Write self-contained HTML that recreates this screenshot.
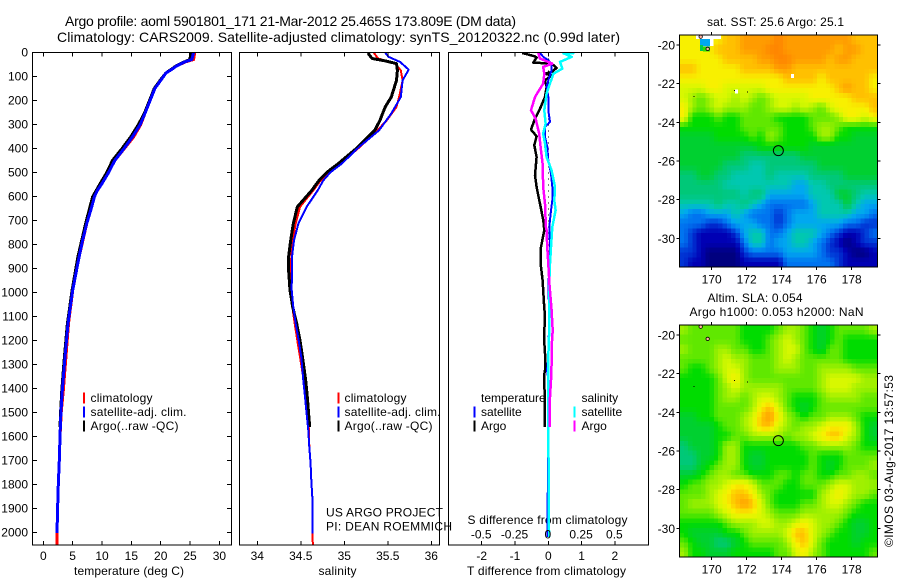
<!DOCTYPE html>
<html lang="en">
<head>
<meta charset="utf-8">
<title>Argo profile 5901801_171</title>
<style>
html,body{margin:0;padding:0;background:#fff;width:900px;height:580px;overflow:hidden}
svg{display:block}
text{font-family:"Liberation Sans",Arial,sans-serif;font-size:12px;fill:#000}
.title{font-size:14px}
</style>
</head>
<body>
<svg id="chart" xmlns="http://www.w3.org/2000/svg" width="900" height="580" viewBox="0 0 900 580">
<rect x="0" y="0" width="900" height="580" fill="#fff"/>
<text class="title" x="65" y="26" textLength="451">Argo profile: aoml 5901801_171 21-Mar-2012 25.465S 173.809E (DM data)</text>
<text class="title" x="57" y="42" textLength="563">Climatology: CARS2009. Satellite-adjusted climatology: synTS_20120322.nc (0.99d later)</text>
<text x="74" y="575" textLength="110">temperature (deg C)</text>
<text x="318.5" y="575" textLength="38">salinity</text>
<text x="467" y="575" textLength="159">T difference from climatology</text>
<text x="467.5" y="524" textLength="160">S difference from climatology</text>
<text x="326" y="516.5" textLength="117">US ARGO PROJECT</text>
<text x="326" y="530.5" textLength="126">PI: DEAN ROEMMICH</text>
<text x="707" y="26" textLength="137">sat. SST: 25.6 Argo: 25.1</text>
<text x="707.5" y="302" textLength="95">Altim. SLA: 0.054</text>
<text x="689.5" y="316" textLength="174">Argo h1000: 0.053 h2000: NaN</text>
<text transform="translate(893,547) rotate(-90)" textLength="172">©IMOS 03-Aug-2017 13:57:53</text>
<g id="layer"></g>
</svg>
<script>
/* ---------- tick labels ---------- */
const depthTicks = [0,100,200,300,400,500,600,700,800,900,1000,1100,1200,1300,1400,1500,1600,1700,1800,1900,2000];
const tempTicks = [0,5,10,15,20,25,30];
const salTicks = [34,34.5,35,35.5,36];
const tDiffTicks = [-2,-1,0,1,2];
const sDiffTicks = [-0.5,-0.25,0,0.25,0.5];
const lonTicks = [170,172,174,176,178];
const latTicks = [-20,-22,-24,-26,-28,-30];

/* ---------- temperature profiles ---------- */
const tempSatDepth = [0,30,40,57,71,86,110,151,201,255,301,352,401,450,501,547,575,602,644,714,783,852,991,1130,1269,1408,1500,1600,1700,1800,1900,2002];
const tempSatValue = [25.6,25.3,24.1,22.7,21.9,20.9,20.2,19.0,18.2,17.3,16.5,15.2,13.75,12.2,11.1,10.0,9.2,8.7,8.24,7.4,6.7,6.1,5.0,4.2,3.7,3.24,3.0,2.85,2.73,2.56,2.44,2.33];
const tempClimDepth = [0,30,40,57,71,86,110,151,201,255,301,352,401,450,501,547,602,714,852,991,1130,1269,1408,1500,1600,1700,1800,1900,2002,2053];
const tempClimValue = [25.8,25.6,24.2,22.7,21.9,20.9,20.2,19.0,18.2,17.3,16.6,15.4,13.8,12.2,11.0,9.9,8.6,7.4,6.1,5.0,4.3,3.85,3.4,3.05,2.85,2.73,2.56,2.44,2.33,2.3];
const tempArgoDepth = [0,30,40,57,71,86,110,151,201,255,301,352,401,450,501,547,602,714,852,991,1130,1269,1408,1500,1560];
const tempArgoValue = [25.1,25.0,24.0,22.6,21.8,20.9,20.1,18.9,18.1,17.2,16.2,14.9,13.4,11.8,10.8,9.7,8.4,7.2,5.9,4.9,4.1,3.6,3.15,2.95,2.85];

/* ---------- salinity profiles ---------- */
const salClimDepth = [3,26,47,75,117,186,228,283,325,394,464,500,533,575,644,714,783,852,991,1061,1130,1200,1269,1408,1574,1644,1713,1783,1852,1922,1991,2053];
const salClimValue = [35.34,35.39,35.58,35.65,35.67,35.63,35.6,35.49,35.38,35.18,34.95,34.83,34.73,34.644,34.491,34.441,34.407,34.391,34.376,34.403,34.43,34.46,34.491,34.552,34.594,34.598,34.613,34.621,34.632,34.632,34.636,34.638];
const salSatDepth = [3,19,40,72,117,186,255,325,394,464,500,533,575,644,714,783,852,991,1061,1130,1200,1269,1366,1435,1505,1574,1644,1713,1783,1852,1922,2005];
const salSatValue = [35.47,35.51,35.64,35.74,35.67,35.65,35.54,35.40,35.17,34.97,34.84,34.76,34.694,34.567,34.472,34.422,34.399,34.395,34.414,34.441,34.476,34.506,34.529,34.548,34.567,34.586,34.598,34.613,34.621,34.632,34.632,34.636];
const salArgoDepth = [3,26,36,47,75,117,186,228,283,325,394,464,500,533,575,644,714,783,852,908,991,1061,1130,1200,1269,1366,1435,1505,1561];
const salArgoValue = [35.27,35.32,35.47,35.60,35.61,35.60,35.54,35.47,35.41,35.35,35.16,34.93,34.80,34.71,34.625,34.46,34.414,34.384,34.36,34.36,34.376,34.407,34.453,34.491,34.52,34.556,34.575,34.59,34.602];

/* ---------- difference profiles ---------- */
const tDiffArgoDepth = [3,17,22,43,47,65,82,89,96,117,144,186,235,276,322,350,387,436,512,561,631,700,741,811,880,949,1047,1102,1186,1255,1325,1340,1560];
const tDiffArgoValue = [-0.78,-0.40,-0.35,-0.45,0.10,0.25,0.10,-0.10,0.10,-0.10,-0.05,-0.10,-0.25,-0.40,-0.52,-0.35,-0.42,-0.35,-0.40,-0.35,-0.25,-0.15,-0.12,-0.22,-0.23,-0.17,-0.13,-0.10,-0.13,-0.10,-0.10,-0.12,-0.10];
const tDiffSatDepth = [3,19,33,47,75,117,144,186,241,290,311,352,394,450,506,561,617,658,728,811,880,991,1075,1269,1325,1380,1560,2019];
const tDiffSatValue = [-0.25,-0.15,0,0.10,0.10,0,-0.05,0,0,0.05,-0.10,-0.10,-0.03,0,0.08,0.12,0.12,0.08,0.03,0.05,0.03,0,0.03,0,-0.04,0.02,-0.01,-0.02];
const sDiffSatDepth = [3,4,19,40,68,89,130,172,241,297,339,380,436,492,561,617,658,728,811,880,991,1075,1186,1269,1560,1991,2019];
const sDiffSatValue = [0.196,0.113,0.176,0.088,0.106,0.038,0.013,-0.013,-0.03,-0.02,-0.038,-0.025,-0.013,0.025,0.05,0.045,0.055,0.03,0.02,0.013,0.005,0.008,0.005,0,0,0.005,0.005];
const sDiffArgoDepth = [3,26,47,61,89,130,186,241,276,339,394,464,561,631,728,741,811,880,963,1075,1158,1228,1297,1366,1436,1560];
const sDiffArgoValue = [-0.075,-0.063,0.03,-0.038,-0.03,-0.038,-0.10,-0.13,-0.095,-0.068,-0.058,-0.043,-0.038,-0.025,-0.018,-0.013,-0.008,0,0.008,0.025,0.033,0.025,0.025,0.02,0.013,0.01];

/* ---------- map grids: colour-scale level per 0.5 deg cell, north to south ---------- */
const sstLevels = [
[12,12,12,12,12,13,13,14,14,14,14,15,14,14,14,14,14,14,14,14,13,13,13],
[12,12,12,12,13,13,13,14,14,14,15,15,14,14,14,14,14,14,13,14,14,13,13],
[12,12,12,12,12,13,13,13,13,14,14,15,15,14,14,14,14,13,14,14,13,13,13],
[13,13,12,12,12,12,12,13,13,13,13,14,14,13,13,13,13,13,13,13,13,13,13],
[12,12,12,12,12,12,12,12,12,12,12,12,13,13,13,13,12,13,13,13,13,13,12],
[11,11,11,12,12,11,11,11,11,11,12,12,12,12,12,12,12,12,13,14,13,13,12],
[11,10,9,10,11,11,10,11,10,9,10,11,11,11,11,12,12,12,12,12,13,13,13],
[12,10,9,10,11,10,10,10,9,9,10,11,11,10,11,10,9,11,12,12,12,12,13],
[12,8,8,8,9,8,8,9,9,9,9,8,8,8,8,9,9,9,10,12,12,11,12],
[8,8,8,8,8,8,8,9,9,9,9,9,8,8,8,9,10,10,9,8,8,8,8],
[7,7,7,7,8,8,8,8,9,8,10,9,8,8,8,8,10,10,8,8,7,7,7],
[7,7,7,7,7,7,7,7,7,8,8,8,8,8,8,7,7,7,7,7,7,7,7],
[7,7,7,7,7,7,7,6,6,6,6,6,6,6,7,7,7,7,7,7,7,7,7],
[7,7,7,7,7,6,6,6,5,5,6,6,6,6,6,6,7,7,7,7,7,7,7],
[6,6,7,7,6,6,5,5,5,5,6,5,5,5,5,6,6,6,6,7,7,7,7],
[6,6,6,6,6,5,5,5,5,5,5,5,5,4,4,5,5,6,6,6,6,6,6],
[6,6,6,6,6,6,6,5,6,6,4,4,4,4,4,5,5,5,7,7,6,5,5],
[5,5,5,5,6,5,5,6,5,4,3,3,3,3,3,4,5,5,5,7,5,4,4],
[4,3,3,4,4,4,5,4,3,3,3,2,3,4,4,4,5,5,5,5,4,4,3],
[3,3,3,2,2,3,4,4,4,3,3,2,3,4,4,4,4,4,4,3,3,2,2],
[3,2,1,1,1,1,2,4,5,5,3,3,4,5,5,5,4,3,2,1,1,2,3],
[3,2,1,1,1,1,1,3,5,5,3,4,4,5,5,4,3,2,1,0,1,2,2],
[2,2,1,0,0,0,0,2,3,3,3,3,4,4,4,4,3,2,2,1,0,0,1],
[2,1,1,0,0,0,0,1,1,1,1,1,3,3,3,3,3,3,2,1,1,1,1]
];
const slaLevels = [
[10,9,9,9,9,9,9,8,8,8,8,9,10,10,9,8,7,8,9,9,9,9,10],
[9,9,9,9,9,9,9,8,8,8,9,10,11,10,9,8,7,8,9,8,8,8,8],
[10,9,9,9,10,10,9,9,8,8,9,10,11,11,9,8,7,9,9,8,8,8,8],
[9,9,9,9,10,11,10,10,9,9,9,10,11,10,9,9,9,9,9,8,8,8,8],
[9,8,8,9,10,11,11,10,9,9,9,10,10,10,9,9,10,10,10,10,9,9,9],
[8,8,8,8,9,11,12,10,9,9,9,9,9,9,9,9,10,11,11,11,11,10,10],
[8,8,8,8,9,10,11,10,10,10,10,10,9,9,9,9,10,11,11,11,10,10,10],
[8,8,8,8,9,10,10,9,10,11,11,10,9,8,8,8,9,10,10,10,10,9,9],
[8,8,8,8,9,9,9,9,10,12,13,11,9,8,7,8,9,9,9,9,9,9,9],
[7,7,8,8,9,9,9,10,11,13,14,12,10,9,8,9,9,10,10,10,9,8,8],
[7,7,7,7,8,9,9,10,11,13,13,11,10,9,10,10,11,12,12,12,10,8,7],
[7,7,7,7,8,8,9,9,10,10,10,10,9,10,10,11,12,13,13,11,10,8,7],
[6,7,7,7,8,10,10,8,8,8,8,8,8,8,9,9,10,10,10,10,9,8,8],
[6,6,7,7,8,10,10,8,7,7,8,8,8,8,8,9,8,8,8,9,9,9,9],
[6,6,7,8,9,10,10,8,7,7,8,8,8,8,8,9,8,7,8,9,9,9,10],
[7,7,8,9,10,10,9,9,8,8,8,9,9,8,9,9,8,8,9,9,10,10,9],
[8,9,9,10,10,11,12,12,11,9,9,9,8,8,9,9,9,10,11,11,10,10,10],
[9,9,9,10,11,12,13,13,12,10,9,8,8,8,8,8,10,11,12,11,10,10,9],
[9,10,10,10,11,12,13,14,13,11,9,8,8,8,9,9,10,11,11,10,9,8,8],
[9,9,9,9,10,11,12,12,12,11,10,9,9,9,10,10,10,10,10,9,8,8,8],
[8,8,8,8,8,9,10,10,10,11,11,10,10,11,12,11,10,10,9,8,7,7,8],
[8,7,7,7,7,8,8,9,10,10,10,10,11,13,13,11,10,9,8,8,7,7,8],
[9,8,7,7,6,6,7,8,9,9,9,9,10,12,13,11,9,8,8,8,7,8,8],
[10,8,8,7,7,7,8,8,8,8,8,9,9,11,12,10,9,8,8,8,8,8,9]
];
const levelColors = [[0,0,127],[0,0,180],[0,52,212],[0,116,240],[0,168,240],[0,200,176],[0,200,120],[0,208,48],[0,220,0],[96,232,0],[160,240,0],[216,248,0],[248,240,0],[255,192,0],[255,156,0],[255,132,0]];
const floatLon = 173.809;
const floatLat = -25.465;
const islandLon = [168.95,171.27,172.03];
const islandLat = [-22.64,-22.34,-22.40];

/* ---------- axis functions ---------- */
const yDepth = d => 52.3 + d * 0.2401;
const xTemp = v => 43.3 + v * 5.87;
const xSal = v => 257.3 + (v - 34) * 87;
const xTDiff = v => 548.3 + v * 33.3;
const xSDiff = v => 548.3 + v * 133.2;
const xLon = v => 711.7 + (v - 170) * 17.5;
const yLat = (v, top) => top + 10 + (-20 - v) * 19.33;
function levelColor(v) {
  const clamped = Math.max(0, Math.min(levelColors.length - 1, v));
  const i = Math.min(levelColors.length - 2, Math.floor(clamped));
  const f = clamped - i;
  const a = levelColors[i], b = levelColors[i + 1];
  return 'rgb(' + a.map((c, k) => Math.round(c + (b[k] - c) * f)).join(',') + ')';
}

const NS = 'http://www.w3.org/2000/svg';
const layer = document.getElementById('layer');
function make(tag, props) {
  const el = document.createElementNS(NS, tag);
  for (const k in props) el.setAttribute(k, props[k]);
  layer.appendChild(el);
  return el;
}
function label(x, y, str, anchor, len) {
  const el = make('text', {x: x, y: y, 'text-anchor': anchor});
  if (len) el.setAttribute('textLength', len);
  el.textContent = str;
  return el;
}
function tick(x1, y1, x2, y2) {
  return make('line', {x1: x1, y1: y1, x2: x2, y2: y2, stroke: '#000', 'stroke-width': 1, 'shape-rendering': 'crispEdges'});
}
function profile(depths, values, xf, color, width) {
  const pts = depths.map((d, i) => xf(values[i]).toFixed(1) + ',' + yDepth(d).toFixed(1)).join(' ');
  return make('polyline', {points: pts, fill: 'none', stroke: color, 'stroke-width': width, 'shape-rendering': 'crispEdges', 'stroke-linejoin': 'round'});
}
function frame(x, y, w, h) {
  return make('rect', {x: x, y: y, width: w, height: h, fill: 'none', stroke: '#000', 'stroke-width': 1, 'shape-rendering': 'crispEdges'});
}

/* ---------- maps: each data cell is shaded as 2x2 display pixels ---------- */
function sampleLevel(levels, r, c) {
  const rows = levels.length, cols = levels[0].length;
  const rr = Math.max(0, Math.min(rows - 1, r)), cc = Math.max(0, Math.min(cols - 1, c));
  const r0 = Math.floor(rr), c0 = Math.floor(cc);
  const r1 = Math.min(rows - 1, r0 + 1), c1 = Math.min(cols - 1, c0 + 1);
  const fr = rr - r0, fc = cc - c0;
  return (levels[r0][c0] * (1 - fc) + levels[r0][c1] * fc) * (1 - fr) + (levels[r1][c0] * (1 - fc) + levels[r1][c1] * fc) * fr;
}
function drawMap(levels, top, prefix) {
  const left = 679.5, right = 877.5, bottom = top + 232;
  const cols = levels[0].length * 2, rows = levels.length * 2;
  const cw = (right - left) / cols, ch = (bottom - top) / rows;
  for (let r = 0; r < rows; r++) {
    for (let c = 0; c < cols; c++) {
      const v = sampleLevel(levels, (r + 0.5) / 2 - 0.5, (c + 0.5) / 2 - 0.5);
      const cell = make('rect', {x: (left + c * cw).toFixed(2), y: (top + r * ch).toFixed(2), width: (cw + 0.4).toFixed(2), height: (ch + 0.4).toFixed(2), fill: levelColor(v), 'shape-rendering': 'crispEdges'});
      
      
    }
  }
}
drawMap(sstLevels, 35, 'sst');
drawMap(slaLevels, 325, 'sla');

/* land-mask and no-data patches on the SST map */
const maskLon = [169.1,169.9,174.52,171.33];
const maskLat = [-19.48,-19.7,-21.5,-22.3];
const maskW = [1.43,0.2,0.17,0.17];
const maskH = [0.22,0.35,0.2,0.2];
maskLon.forEach((lo, i) => {
  const m = make('rect', {x: xLon(lo), y: yLat(maskLat[i], 35), width: maskW[i] * 17.5, height: maskH[i] * 19.33, fill: '#fff', 'shape-rendering': 'crispEdges'});
  
  
});
const sky = make('rect', {x: xLon(169.33), y: yLat(-19.7, 35), width: 10, height: 7.4, fill: '#00a8f0', 'shape-rendering': 'crispEdges'});


const grn = make('rect', {x: xLon(169.33), y: yLat(-20.0, 35), width: 3, height: 6, fill: '#00c850', 'shape-rendering': 'crispEdges'});


const grn2 = make('rect', {x: xLon(169.5), y: yLat(-20.1, 35), width: 7, height: 4.5, fill: '#30dc00', 'shape-rendering': 'crispEdges'});



[35, 325].forEach(top => {
  const shore1 = make('circle', {cx: xLon(169.77), cy: yLat(-20.2, top), r: 1.7, fill: '#ffb0a0', stroke: '#000', 'stroke-width': 0.8});
  
  
  const shore2 = make('circle', {cx: xLon(169.37), cy: yLat(-19.57, top), r: 1.7, fill: '#ffb0a0', stroke: '#000', 'stroke-width': 0.8});
  
  
  islandLon.forEach((lo, i) => {
    const dot = make('rect', {x: xLon(lo), y: yLat(islandLat[i], top), width: 1, height: 1, fill: '#000', 'shape-rendering': 'crispEdges'});
    
    
  });
  const fr = frame(679.5, top, 198, 232);
  
  
  const ring = make('circle', {cx: xLon(floatLon), cy: yLat(floatLat, top), r: 5, fill: 'none', stroke: '#000', 'stroke-width': 1});
  
  
  lonTicks.forEach(v => {
    const a = tick(xLon(v), top, xLon(v), top - 3);
    
    
    const b = tick(xLon(v), top + 232, xLon(v), top + 235);
    
    
    const t = label(xLon(v), top + 248.5, String(v), 'middle');
    
    
  });
  latTicks.forEach(v => {
    const y = yLat(v, top);
    const a = tick(679.5, y, 676.5, y);
    
    
    const b = tick(877.5, y, 880.5, y);
    
    
    const t = label(675, y + 4.5, String(v), 'end');
    
    
  });
});

/* ---------- profile panels ---------- */
const PT = 52.5, PB = 545;

/* zero reference in the difference panel */
const zero = make('line', {x1: xTDiff(0), y1: PT, x2: xTDiff(0), y2: yDepth(2000), stroke: '#000', 'stroke-width': 1, 'stroke-dasharray': '1 5', 'shape-rendering': 'crispEdges'});



let s;
s = profile(tempClimDepth, tempClimValue, xTemp, '#ff0000', 3);


s = profile(tempArgoDepth, tempArgoValue, xTemp, '#000000', 3);


s = profile(tempSatDepth, tempSatValue, xTemp, '#0000ff', 3);



s = profile(salClimDepth, salClimValue, xSal, '#ff0000', 2);


s = profile(salArgoDepth, salArgoValue, xSal, '#000000', 3);


s = profile(salSatDepth, salSatValue, xSal, '#0000ff', 2);



s = profile(tDiffArgoDepth, tDiffArgoValue, xTDiff, '#000000', 2.5);


s = profile(tDiffSatDepth, tDiffSatValue, xTDiff, '#0000ff', 2);


s = profile(sDiffSatDepth, sDiffSatValue, xSDiff, '#00ffff', 2.5);


s = profile(sDiffArgoDepth, sDiffArgoValue, xSDiff, '#ff00ff', 2.5);



s = frame(32.5, PT, 199, PB - PT);


s = frame(239.5, PT, 200, PB - PT);


s = frame(448.5, PT, 200, PB - PT);



depthTicks.forEach(d => {
  const y = yDepth(d);
  const a = tick(32.5, y, 37, y);
  
  
  const b = tick(231.5, y, 227, y);
  
  
  const t = label(28, y + 4, String(d), 'end');
  
  
});
function xAxis(vals, xf, name) {
  vals.forEach(v => {
    const x = xf(v);
    const a = tick(x, PT, x, PT + 4);
    
    
    const b = tick(x, PB, x, PB - 4);
    
    
    const t = label(x, 560, String(v), 'middle');
    
    
  });
}
xAxis(tempTicks, xTemp, 'temperature');
xAxis(salTicks, xSal, 'salinity');
xAxis(tDiffTicks, xTDiff, 't-difference');
sDiffTicks.forEach(v => {
  const t = label(xSDiff(v) - 0.5, 538.5, String(v), 'middle');
  
  
});

/* ---------- legends ---------- */
const legendLabels = ['climatology', 'satellite-adj. clim.', 'Argo(..raw -QC)'];
const legendColors = ['#ff0000', '#0000ff', '#000000'];
const legendBaselines = [402, 416, 430];
const legendWidths = [62, 96, 88];
function legend(barX, textX, prefix) {
  legendLabels.forEach((txt, i) => {
    const bar = make('rect', {x: barX, y: legendBaselines[i] - 9.5, width: 2, height: 11, fill: legendColors[i], 'shape-rendering': 'crispEdges'});
    
    
    const t = label(textX, legendBaselines[i], txt, 'start', legendWidths[i]);
    
    
  });
}
legend(83, 90.5, 'temperature');
legend(337.5, 344.5, 'salinity');

const diffHeads = ['temperature', 'salinity'];
const diffHeadX = [481, 581.5];
diffHeads.forEach((h, i) => {
  const t = label(diffHeadX[i], 402, h, 'start');
  
  
});
const diffLabels = ['satellite', 'Argo', 'satellite', 'Argo'];
const diffColors = ['#0000ff', '#000000', '#00ffff', '#ff00ff'];
const diffBarX = [473.5, 473.5, 573.5, 573.5];
const diffTextX = [481, 481, 581.5, 581.5];
const diffBase = [416, 430, 416, 430];
diffLabels.forEach((txt, i) => {
  const bar = make('rect', {x: diffBarX[i], y: diffBase[i] - 9.5, width: 2, height: 11, fill: diffColors[i], 'shape-rendering': 'crispEdges'});
  
  
  const t = label(diffTextX[i], diffBase[i], txt, 'start');
  
  
});
</script>
</body>
</html>
